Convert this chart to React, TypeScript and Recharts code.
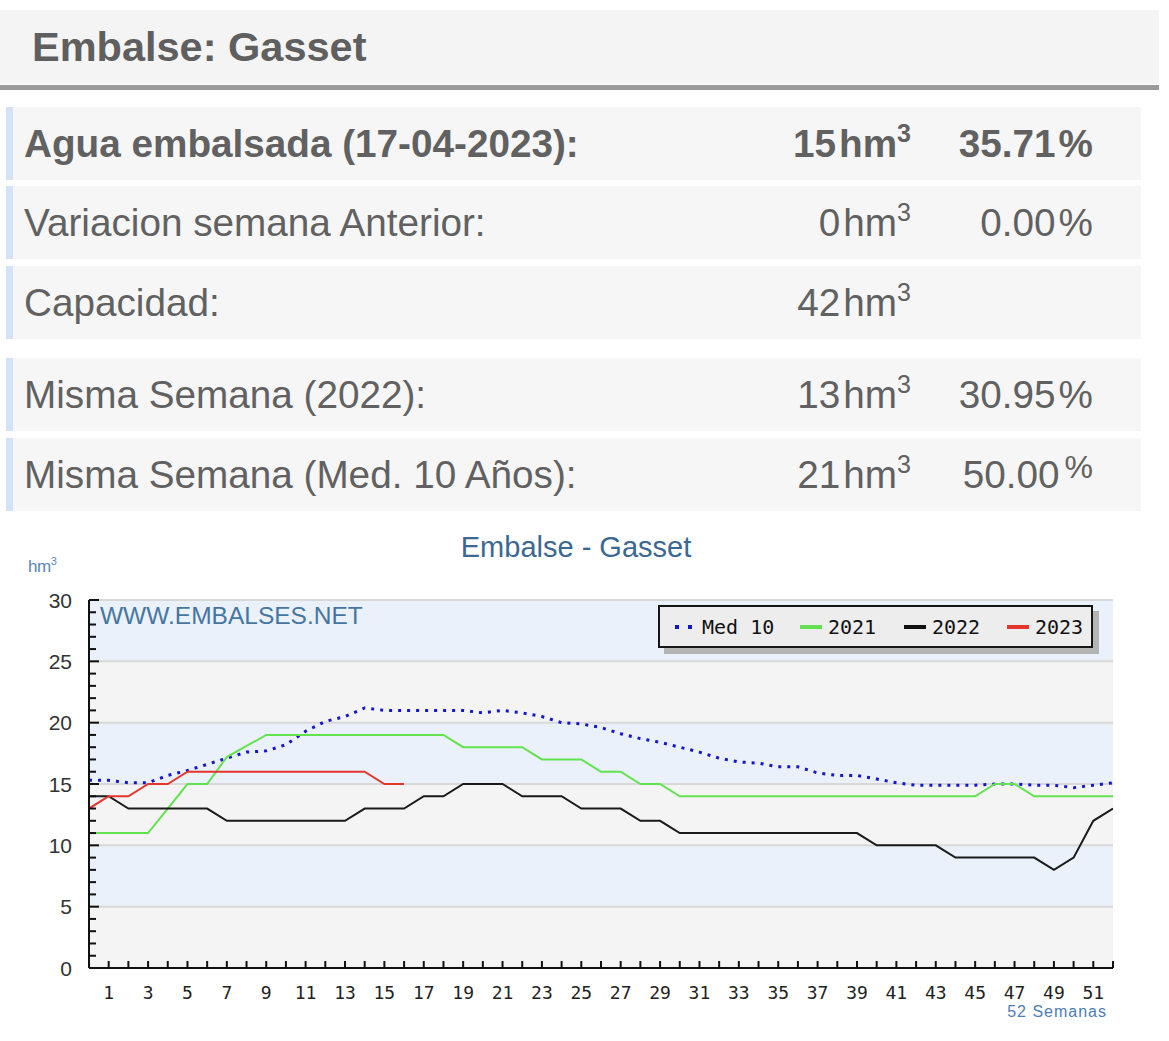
import React from 'react';
import { LineChart, Line, XAxis, YAxis, ReferenceArea, ReferenceLine, Legend } from 'recharts';

// semana 0..52
const weeks = [0, 1, 2, 3, 4, 5, 6, 7, 8, 9, 10, 11, 12, 13, 14, 15, 16, 17, 18, 19, 20, 21, 22, 23, 24, 25, 26, 27, 28, 29, 30, 31, 32, 33, 34, 35, 36, 37, 38, 39, 40, 41, 42, 43, 44, 45, 46, 47, 48, 49, 50, 51, 52];

const med10 = [15.3, 15.3, 15.1, 15.1, 15.7, 16.1, 16.6, 17.1, 17.6, 17.7, 18.2, 19.3, 20.1, 20.5, 21.2, 21.0, 21.0, 21.0, 21.0, 21.0, 20.8, 21.0, 20.8, 20.5, 20.0, 19.9, 19.6, 19.1, 18.7, 18.4, 18.0, 17.6, 17.1, 16.8, 16.7, 16.4, 16.4, 15.9, 15.7, 15.7, 15.4, 15.1, 14.9, 14.9, 14.9, 14.9, 15.0, 15.0, 14.9, 14.9, 14.7, 14.9, 15.1];
const y2021 = [11, 11, 11, 11, 13, 15, 15, 17.2, 18.1, 19, 19, 19, 19, 19, 19, 19, 19, 19, 19, 18, 18, 18, 18, 17, 17, 17, 16, 16, 15, 15, 14, 14, 14, 14, 14, 14, 14, 14, 14, 14, 14, 14, 14, 14, 14, 14, 15, 15, 14, 14, 14, 14, 14];
const y2022 = [14, 14, 13, 13, 13, 13, 13, 12, 12, 12, 12, 12, 12, 12, 13, 13, 13, 14, 14, 15, 15, 15, 14, 14, 14, 13, 13, 13, 12, 12, 11, 11, 11, 11, 11, 11, 11, 11, 11, 11, 10, 10, 10, 10, 9, 9, 9, 9, 9, 8, 9, 12, 13];
const y2023 = [13, 14, 14, 15, 15, 16, 16, 16, 16, 16, 16, 16, 16, 16, 16, 15, 15];

const xTicks = [1, 2, 3, 4, 5, 6, 7, 8, 9, 10, 11, 12, 13, 14, 15, 16, 17, 18, 19, 20, 21, 22, 23, 24, 25, 26, 27, 28, 29, 30, 31, 32, 33, 34, 35, 36, 37, 38, 39, 40, 41, 42, 43, 44, 45, 46, 47, 48, 49, 50, 51, 52];
const yTicks = [0, 1, 2, 3, 4, 5, 6, 7, 8, 9, 10, 11, 12, 13, 14, 15, 16, 17, 18, 19, 20, 21, 22, 23, 24, 25, 26, 27, 28, 29, 30];
const bandEdges = [0, 5, 10, 15, 20, 25, 30];

const legendNames = ['Med 10', '2021', '2022', '2023'];

const rows = [
  { label: 'Agua embalsada (17-04-2023):', hm: '15', pct: '35.71', bold: true },
  { label: 'Variacion semana Anterior:', hm: '0', pct: '0.00' },
  { label: 'Capacidad:', hm: '42', pct: '' },
  { label: 'Misma Semana (2022):', hm: '13', pct: '30.95' },
  { label: 'Misma Semana (Med. 10 Años):', hm: '21', pct: '50.00', supPct: true },
];
const rowTops = [107, 186, 266, 358, 438];

const data = weeks.map((w, i) => ({
  week: w,
  med10: med10[i],
  y2021: y2021[i],
  y2022: y2022[i],
  y2023: i < y2023.length ? y2023[i] : null,
}));

const CHART_TOP = 560;
const TEXT = '#616161';

const YTick = (props: any) => {
  const { x, y, payload } = props;
  const major = payload.value % 5 === 0;
  return (
    <g>
      <line x1={x} y1={y} x2={x + (major ? 10 : 7)} y2={y} stroke="#111" strokeWidth={2} />
      {major && (
        <text x={x - 17} y={y} textAnchor="end" dominantBaseline="central" fontSize={21} fill="#333" fontFamily="Liberation Sans, Arial, sans-serif">
          {payload.value}
        </text>
      )}
    </g>
  );
};

const XTick = (props: any) => {
  const { x, y, payload } = props;
  return (
    <g>
      <line x1={x} y1={y} x2={x} y2={y - 7} stroke="#111" strokeWidth={2} />
      {payload.value % 2 === 1 && (
        <text x={x} y={y + 24} textAnchor="middle" dominantBaseline="central" fontSize={18} fill="#222" fontFamily="DejaVu Sans Mono, monospace">
          {payload.value}
        </text>
      )}
    </g>
  );
};

// swatches for the legend box
const swatch = (i: number) => {
  if (i === 0) {
    return (
      <svg width={18} height={6} style={{ marginRight: 9 }}>
        <rect x={0} y={1} width={4} height={4} fill="#1515cc" />
        <rect x={13} y={1} width={4} height={4} fill="#1515cc" />
      </svg>
    );
  }
  const c = ['', '#62e24f', '#111', '#e3362d'][i];
  return <span style={{ display: 'inline-block', width: 22, height: 4, background: c, marginRight: 6 }} />;
};
const legendLefts = [15, 140, 244, 347];

const LegendBox = () => (
  <div style={{ position: 'relative', width: 435, height: 43 }}>
    <div style={{ position: 'absolute', left: 6, top: 6, width: 435, height: 43, background: '#b4b4b4' }} />
    <div
      style={{
        position: 'absolute', left: 0, top: 0, width: 435, height: 43, boxSizing: 'border-box',
        background: '#ededed', border: '2px solid #151515',
        fontFamily: 'DejaVu Sans Mono, monospace', fontSize: 20, color: '#111',
      }}
    >
      {legendNames.map((n, i) => (
        <span key={n} style={{ position: 'absolute', left: legendLefts[i], top: 0, height: 39, display: 'flex', alignItems: 'center', whiteSpace: 'nowrap' }}>
          {swatch(i)}
          {n}
        </span>
      ))}
    </div>
  </div>
);

export default function App() {
  const bandFills = ['#f4f4f4', '#eaf1fa'];
  return (
    <div style={{ position: 'absolute', left: 0, top: 0, width: 1169, height: 1041, background: '#fff', fontFamily: 'Liberation Sans, Arial, sans-serif', color: TEXT }}>
      {/* cabecera */}
      <div style={{ position: 'absolute', left: 0, top: 10, width: 1159, height: 74, background: '#f4f4f4' }}>
        <div style={{ position: 'absolute', left: 32, top: 0, lineHeight: '74px', fontSize: 41.5, fontWeight: 'bold', color: '#5f5f5f', whiteSpace: 'nowrap' }}>
          Embalse: Gasset
        </div>
      </div>
      <div style={{ position: 'absolute', left: 0, top: 85, width: 1159, height: 5, background: '#9a9a9a' }} />

      {rows.map((r, i) => (
        <div
          key={r.label}
          style={{
            position: 'absolute', left: 6, top: rowTops[i], width: 1135, height: 73, boxSizing: 'border-box',
            background: '#f6f6f6', borderLeft: '7px solid #d3e2f5', fontSize: 38.7, lineHeight: '73px',
            fontWeight: r.bold ? 'bold' : 'normal',
          }}
        >
          <span style={{ position: 'absolute', left: 11, top: 0, whiteSpace: 'nowrap' }}>{r.label}</span>
          <span style={{ position: 'absolute', right: 1141 - 911, top: 0, whiteSpace: 'nowrap' }}>
            {r.hm}
            <span style={{ marginLeft: 3 }}>hm</span>
            <span style={{ fontSize: 25, position: 'relative', top: -15 }}>3</span>
          </span>
          {r.pct && (
            <span style={{ position: 'absolute', right: 1141 - 1093, top: 0, whiteSpace: 'nowrap' }}>
              {r.pct}
              {r.supPct ? (
                <span style={{ fontSize: 32, position: 'relative', top: -10, marginLeft: 5 }}>%</span>
              ) : (
                <span style={{ marginLeft: 3 }}>%</span>
              )}
            </span>
          )}
        </div>
      ))}

      {/* grafico */}
      <div style={{ position: 'absolute', left: 376, top: 530, width: 400, textAlign: 'center', fontSize: 29, lineHeight: '34px', color: '#3b6893' }}>
        Embalse - Gasset
      </div>
      <div style={{ position: 'absolute', left: 28, top: 556, fontSize: 17, lineHeight: '22px', color: '#5a86b8', letterSpacing: -0.5 }}>
        hm<span style={{ fontSize: 11, position: 'relative', top: -7 }}>3</span>
      </div>

      <div style={{ position: 'absolute', left: 0, top: CHART_TOP }}>
        <LineChart width={1169} height={481} data={data} margin={{ top: 40, right: 56, left: 29, bottom: 43 }}>
          {bandEdges.slice(0, -1).map((b, i) => (
            <ReferenceArea key={b} y1={b} y2={bandEdges[i + 1]} fill={bandFills[i % 2]} fillOpacity={1} stroke="none" ifOverflow="hidden" />
          ))}
          {bandEdges.slice(1).map((b) => (
            <ReferenceLine key={b} y={b} stroke="#d8d8d8" strokeWidth={2} />
          ))}
          <XAxis
            dataKey="week" type="number" domain={[0, 52]} ticks={xTicks} interval={0} height={30}
            tickSize={0} tickMargin={0} tickLine={false} tick={(p: any) => <XTick {...p} />}
            axisLine={{ stroke: '#111', strokeWidth: 2 }} allowDataOverflow
          />
          <YAxis
            type="number" domain={[0, 30]} ticks={yTicks} interval={0} width={60}
            tickSize={0} tickMargin={0} tickLine={false} tick={(p: any) => <YTick {...p} />}
            axisLine={{ stroke: '#111', strokeWidth: 2 }} allowDataOverflow
          />
          <Legend
            layout="horizontal" verticalAlign="middle" align="center"
            content={() => <LegendBox />}
            wrapperStyle={{ position: 'absolute', left: 658, top: 605 - CHART_TOP, width: 441, height: 49 }}
          />
          <Line dataKey="med10" name="Med 10" stroke="#1515cc" strokeWidth={3} strokeDasharray="3 6" dot={false} isAnimationActive={false} />
          <Line dataKey="y2021" name="2021" stroke="#62e24f" strokeWidth={2} dot={false} isAnimationActive={false} />
          <Line dataKey="y2022" name="2022" stroke="#1a1a1a" strokeWidth={2} dot={false} isAnimationActive={false} />
          <Line dataKey="y2023" name="2023" stroke="#e3362d" strokeWidth={2} dot={false} isAnimationActive={false} connectNulls={false} />
        </LineChart>
      </div>

      <div style={{ position: 'absolute', left: 100, top: 602, fontSize: 24.5, lineHeight: '28px', color: '#4676a0', whiteSpace: 'nowrap' }}>
        WWW.EMBALSES.NET
      </div>
      <div style={{ position: 'absolute', right: 1169 - 1107, top: 1002, fontSize: 16, lineHeight: '20px', letterSpacing: 1, color: '#4d7db3' }}>
        52 Semanas
      </div>
    </div>
  );
}
